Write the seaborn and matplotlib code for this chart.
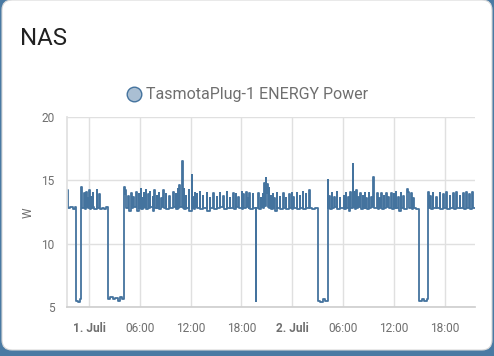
import pandas as pd
import matplotlib.pyplot as plt
import seaborn as sns
from matplotlib.lines import Line2D
from matplotlib.patches import FancyBboxPatch

# hours relative to 1. Juli 00:00, step samples of the plug power (W)
hours = [
    -2.60, -2.50, -2.20, -1.90, -1.60, -1.53, -1.30, -1.10,
    -0.94, -0.88, -0.59, -0.53, -0.35, -0.29, -0.15, -0.10,
    0.04, 0.10, 0.20, 0.25, 0.43, 0.49, 0.60, 0.91,
    0.97, 1.18, 1.24, 1.50, 1.80, 2.00, 2.28, 2.50,
    2.80, 3.10, 3.40, 3.70, 3.90, 4.13, 4.20, 4.29,
    4.35, 4.64, 4.70, 4.96, 5.02, 5.23, 5.29, 5.59,
    5.65, 5.86, 5.92, 6.10, 6.16, 6.34, 6.40, 6.49,
    6.55, 6.73, 6.79, 6.97, 7.03, 7.20, 7.26, 7.52,
    7.58, 7.71, 7.77, 7.99, 8.05, 8.23, 8.29, 8.54,
    8.60, 8.78, 8.84, 9.06, 9.12, 9.49, 9.55, 9.95,
    10.01, 10.24, 10.30, 10.47, 10.53, 10.66, 10.72, 11.02,
    11.06, 11.12, 11.22, 11.28, 11.45, 11.51, 11.77, 11.83,
    12.12, 12.17, 12.32, 12.38, 12.51, 12.57, 12.75, 12.81,
    13.11, 13.17, 13.46, 13.52, 13.90, 13.96, 14.29, 14.35,
    14.68, 14.74, 15.07, 15.13, 15.47, 15.53, 15.86, 15.92,
    16.26, 16.32, 16.65, 16.71, 17.04, 17.10, 17.32, 17.38,
    17.63, 17.69, 18.06, 18.12, 18.22, 18.28, 18.57, 18.63,
    18.81, 18.87, 18.93, 18.99, 19.32, 19.38, 19.72, 19.76,
    19.99, 20.05, 20.27, 20.33, 20.50, 20.56, 20.70, 20.76,
    20.90, 20.96, 21.06, 21.12, 21.25, 21.31, 21.45, 21.51,
    21.69, 21.75, 21.88, 21.94, 22.16, 22.22, 22.55, 22.61,
    22.94, 23.00, 23.26, 23.32, 23.65, 23.71, 23.93, 23.99,
    24.12, 24.18, 24.52, 24.58, 24.91, 24.97, 25.23, 25.29,
    25.58, 25.64, 26.01, 26.07, 26.40, 26.70, 27.00, 27.30,
    27.60, 27.90, 28.18, 28.24, 28.40, 28.46, 28.65, 28.71,
    28.96, 29.02, 29.24, 29.30, 29.63, 29.69, 30.11, 30.17,
    30.34, 30.40, 30.62, 30.68, 30.89, 30.95, 31.13, 31.17,
    31.40, 31.46, 31.60, 31.66, 31.80, 31.86, 32.07, 32.13,
    32.31, 32.37, 32.55, 32.61, 32.78, 32.84, 33.02, 33.08,
    33.34, 33.40, 33.57, 33.62, 33.70, 34.04, 34.10, 34.28,
    34.34, 34.55, 34.61, 34.83, 34.89, 35.14, 35.20, 35.38,
    35.44, 35.73, 35.79, 36.01, 36.07, 36.24, 36.30, 36.52,
    36.58, 36.80, 36.86, 37.11, 37.17, 37.58, 37.70, 37.85,
    38.09, 38.15, 38.29, 38.35, 38.60, 38.96, 39.30, 39.60,
    39.90, 40.10, 40.16, 40.34, 40.40, 40.58, 40.64, 41.05,
    41.11, 41.44, 41.50, 41.83, 41.89, 42.23, 42.29, 42.62,
    42.68, 43.01, 43.07, 43.41, 43.47, 43.80, 43.86, 44.19,
    44.25, 44.59, 44.65, 44.90, 44.96, 45.30, 45.36, 45.61,
]
watts = [
    14.2, 12.8, 12.9, 12.7, 12.9, 5.5, 5.4, 5.6,
    14.5, 12.8, 14.0, 12.7, 14.1, 12.9, 13.6, 12.8,
    14.2, 12.7, 13.7, 12.8, 14.0, 12.9, 12.7, 14.2,
    12.8, 13.9, 12.7, 12.8, 12.7, 12.9, 5.6, 5.8,
    5.6, 5.7, 5.5, 5.8, 5.6, 14.5, 13.9, 14.2,
    12.8, 13.8, 12.6, 14.0, 12.8, 13.7, 12.9, 14.1,
    12.6, 13.9, 12.8, 14.3, 12.7, 13.6, 12.8, 14.0,
    12.9, 14.2, 12.7, 13.9, 12.8, 14.1, 12.9, 13.7,
    12.6, 14.2, 12.8, 13.8, 12.8, 14.0, 12.7, 13.6,
    12.9, 14.2, 12.8, 13.9, 12.7, 13.8, 12.8, 14.1,
    12.9, 13.9, 12.7, 14.3, 12.8, 14.6, 12.9, 16.5,
    14.0, 12.8, 14.3, 12.7, 13.8, 12.8, 14.2, 12.6,
    15.4, 12.8, 13.7, 12.7, 14.0, 12.9, 13.9, 12.8,
    14.1, 12.7, 13.8, 12.8, 14.0, 12.6, 13.6, 12.8,
    14.0, 12.7, 13.7, 12.8, 14.0, 12.9, 13.8, 12.7,
    14.1, 12.8, 13.6, 12.8, 14.0, 12.7, 13.9, 12.9,
    13.7, 12.8, 14.1, 12.7, 13.9, 12.8, 14.1, 12.9,
    13.6, 12.8, 14.0, 12.7, 13.9, 12.8, 5.5, 12.8,
    14.0, 12.7, 13.6, 12.9, 13.9, 12.8, 14.8, 13.0,
    15.2, 14.0, 14.7, 12.9, 14.4, 12.8, 13.8, 12.7,
    13.9, 12.8, 13.6, 12.6, 14.0, 12.8, 13.7, 12.7,
    14.0, 12.8, 13.6, 12.7, 13.9, 12.8, 14.0, 12.7,
    13.7, 12.8, 14.0, 12.7, 13.8, 12.8, 14.1, 12.7,
    13.9, 12.8, 14.2, 12.8, 12.7, 12.8, 5.5, 5.4,
    5.6, 5.5, 15.0, 12.8, 13.8, 12.7, 14.0, 12.8,
    13.7, 12.9, 14.1, 12.7, 13.6, 12.8, 13.8, 12.7,
    14.0, 12.8, 13.7, 12.6, 14.1, 12.8, 16.3, 12.9,
    14.1, 12.7, 14.2, 12.8, 13.7, 12.9, 14.0, 12.7,
    13.8, 12.8, 14.0, 12.8, 13.6, 12.7, 14.0, 12.8,
    13.7, 12.9, 15.3, 14.3, 12.8, 14.0, 12.7, 13.6,
    12.8, 14.0, 12.7, 13.8, 12.8, 14.0, 12.9, 13.7,
    12.8, 14.0, 12.7, 13.9, 12.8, 14.1, 12.8, 13.7,
    12.6, 14.0, 12.8, 13.8, 12.7, 14.3, 14.1, 12.8,
    14.0, 12.7, 13.6, 12.8, 12.7, 5.5, 5.6, 5.5,
    5.6, 14.1, 12.8, 13.8, 12.7, 14.0, 12.8, 13.7,
    12.8, 14.0, 12.7, 13.9, 12.8, 14.1, 12.7, 13.8,
    12.8, 14.0, 12.7, 14.1, 12.8, 13.8, 12.8, 14.0,
    12.7, 14.1, 12.8, 13.9, 12.7, 14.1, 12.8, 12.8,
]
tick_hours = [0, 6, 12, 18, 24, 30, 36, 42]
tick_labels = ["1. Juli", "06:00", "12:00", "18:00", "2. Juli", "06:00", "12:00", "18:00"]
y_ticks = [5, 10, 15, 20]
series_name = "TasmotaPlug-1 ENERGY Power"

start = pd.Timestamp("2023-07-01")
df = pd.DataFrame({
    "time": start + pd.to_timedelta(hours, unit="h"),
    "W": watts,
})

sns.set_theme(style="white")
plt.rcParams["font.family"] = ["Roboto", "DejaVu Sans"]

line_color = "#44739e"
grid_color = "#e0e0e0"
text_gray = "#6f6f6f"

fig = plt.figure(figsize=(4.94, 3.56), dpi=100)
fig.patch.set_facecolor("#4a7aa3")

# card background (pixel coordinates)
bg = fig.add_axes([0, 0, 1, 1], zorder=-1)
bg.set_xlim(0, 494)
bg.set_ylim(356, 0)
bg.axis("off")
bg.add_patch(FancyBboxPatch((2, 0), 490, 350, boxstyle="round,pad=0,rounding_size=10",
                            facecolor="white", edgecolor="#d8d8d8", linewidth=0.8))

ax = fig.add_axes([67 / 494, 1 - 307 / 356, 408 / 494, 190 / 356])
ax.set_facecolor("none")
sns.lineplot(data=df, x="time", y="W", ax=ax, color=line_color, linewidth=1.3,
             drawstyle="steps-post", legend=False)

ax.set_xlim(start - pd.Timedelta(hours=2.6), start + pd.Timedelta(hours=45.6))
ax.set_ylim(5, 20)
ax.set_yticks(y_ticks)
ax.set_xticks([start + pd.Timedelta(hours=h) for h in tick_hours])
ax.set_xticklabels(tick_labels)
for lbl in ax.get_xticklabels():
    if "Juli" in lbl.get_text():
        lbl.set_fontweight("bold")

ax.grid(True, color=grid_color, linewidth=1)
ax.tick_params(axis="both", length=7, width=1, color=grid_color, labelcolor=text_gray,
               labelsize=8.6)
ax.tick_params(axis="y", pad=2)
ax.tick_params(axis="x", pad=3.5)
ax.set_xlabel("")
ax.set_ylabel("")
for side in ["top", "right"]:
    ax.spines[side].set_visible(False)
ax.spines["left"].set_color(grid_color)
ax.spines["bottom"].set_color("#cfcfcf")

fig.text(20 / 494, 1 - 45 / 356, "NAS", fontsize=17.3, color="#212121", va="baseline")
fig.text(28 / 494, 1 - 213 / 356, "W", rotation=90, fontsize=8.6, color=text_gray,
         ha="center", va="center")

handle = Line2D([], [], linestyle="none", marker="o", markersize=10.5,
                markerfacecolor=(68 / 255, 115 / 255, 158 / 255, 0.45),
                markeredgecolor=line_color, markeredgewidth=1)
fig.legend([handle], [series_name], loc="center", bbox_to_anchor=(0.5, 1 - 95 / 356),
           frameon=False, fontsize=11.5, labelcolor=text_gray, handletextpad=0.3,
           handlelength=1.0)

fig.savefig("out.png", dpi=100, facecolor=fig.get_facecolor())
